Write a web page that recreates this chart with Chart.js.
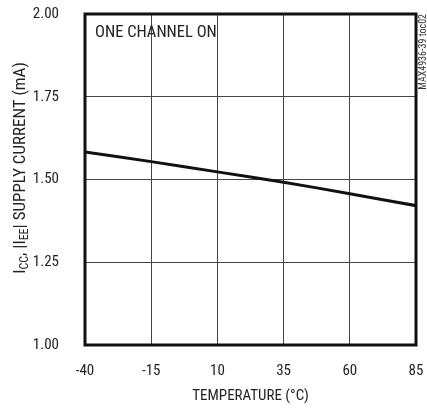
<!DOCTYPE html>
<html>
<head>
<meta charset="utf-8">
<script src="https://cdn.jsdelivr.net/npm/chart.js@4/dist/chart.umd.min.js"></script>
<style>
  html, body { margin: 0; padding: 0; background: #fff; }
  #wrap { width: 427px; height: 409px; position: relative; }
</style>
</head>
<body>
<div id="wrap"><canvas id="myChart"></canvas></div>
<script>
  // values
  const temperatures = [-40, -15, 10, 35, 60, 85];
  const supplyCurrent = [1.583, 1.554, 1.523, 1.492, 1.457, 1.421];
  const xTicks = [-40, -15, 10, 35, 60, 85];
  const yTicks = [1.00, 1.25, 1.50, 1.75, 2.00];

  const FONT = "'Liberation Sans Narrow', 'Arial Narrow', 'Roboto Condensed', sans-serif";

  // frame, labels with subscripts, note text
  const extras = {
    id: 'extras',
    afterDraw(chart) {
      const ctx = chart.ctx;
      const a = chart.chartArea;
      ctx.save();
      ctx.strokeStyle = '#111';
      ctx.lineWidth = 3;
      ctx.strokeRect(a.left, a.top, a.right - a.left, a.bottom - a.top);

      ctx.fillStyle = '#222';
      ctx.font = '16.5px ' + FONT;
      ctx.textBaseline = 'middle';
      ctx.textAlign = 'left';
      ctx.fillText('ONE CHANNEL ON', 95, 33);

      // y title, rotated, with subscripts
      const parts = [
        ['I', 0], ['CC', 1], [', |I', 0], ['EE', 1], ['| SUPPLY CURRENT (mA)', 0]
      ];
      ctx.translate(21, 168);
      ctx.rotate(-Math.PI / 2);
      let total = 0;
      parts.forEach(p => {
        ctx.font = (p[1] ? '12px ' : '17px ') + FONT;
        total += ctx.measureText(p[0]).width;
      });
      let x = -total / 2;
      parts.forEach(p => {
        ctx.font = (p[1] ? '12px ' : '17px ') + FONT;
        ctx.fillText(p[0], x, p[1] ? 4 : 0);
        x += ctx.measureText(p[0]).width;
      });
      ctx.restore();

      ctx.save();
      ctx.fillStyle = '#333';
      ctx.font = '10px ' + FONT;
      ctx.translate(423, 14);
      ctx.rotate(-Math.PI / 2);
      ctx.textAlign = 'right';
      ctx.textBaseline = 'middle';
      ctx.fillText('MAX4936-39 toc02', 0, 0);
      ctx.restore();
    }
  };

  const ctx = document.getElementById('myChart').getContext('2d');
  const myChart = new Chart(ctx, {
    type: 'line',
    data: {
      datasets: [{
        data: temperatures.map((t, i) => ({ x: t, y: supplyCurrent[i] })),
        borderColor: '#111',
        borderWidth: 3,
        pointRadius: 0,
        tension: 0.2,
        fill: false
      }]
    },
    options: {
      responsive: true,
      maintainAspectRatio: false,
      animation: false,
      layout: { padding: { left: 0, top: 14, right: 11, bottom: 0 } },
      plugins: { legend: { display: false }, tooltip: { enabled: false } },
      scales: {
        x: {
          type: 'linear',
          min: -40,
          max: 85,
          afterBuildTicks: (s) => { s.ticks = xTicks.map(v => ({ value: v })); },
          afterFit: (s) => { s.height = 64; s.paddingLeft = 0; s.paddingRight = 0; },
          grid: { color: '#444', lineWidth: 1, drawTicks: false },
          border: { display: false },
          ticks: { color: '#222', padding: 17, font: { family: FONT, size: 15 } },
          title: {
            display: true,
            text: 'TEMPERATURE (°C)',
            color: '#222',
            font: { family: FONT, size: 15 },
            padding: { top: 0, bottom: 4 }
          }
        },
        y: {
          min: 1,
          max: 2,
          afterBuildTicks: (s) => { s.ticks = yTicks.map(v => ({ value: v })); },
          afterFit: (s) => { s.width = 85; s.paddingTop = 0; s.paddingBottom = 0; },
          grid: { color: '#444', lineWidth: 1, drawTicks: false },
          border: { display: false },
          ticks: {
            color: '#222',
            padding: 26,
            font: { family: FONT, size: 15 },
            callback: (v) => v.toFixed(2)
          }
        }
      }
    },
    plugins: [extras]
  });
</script>
</body>
</html>
